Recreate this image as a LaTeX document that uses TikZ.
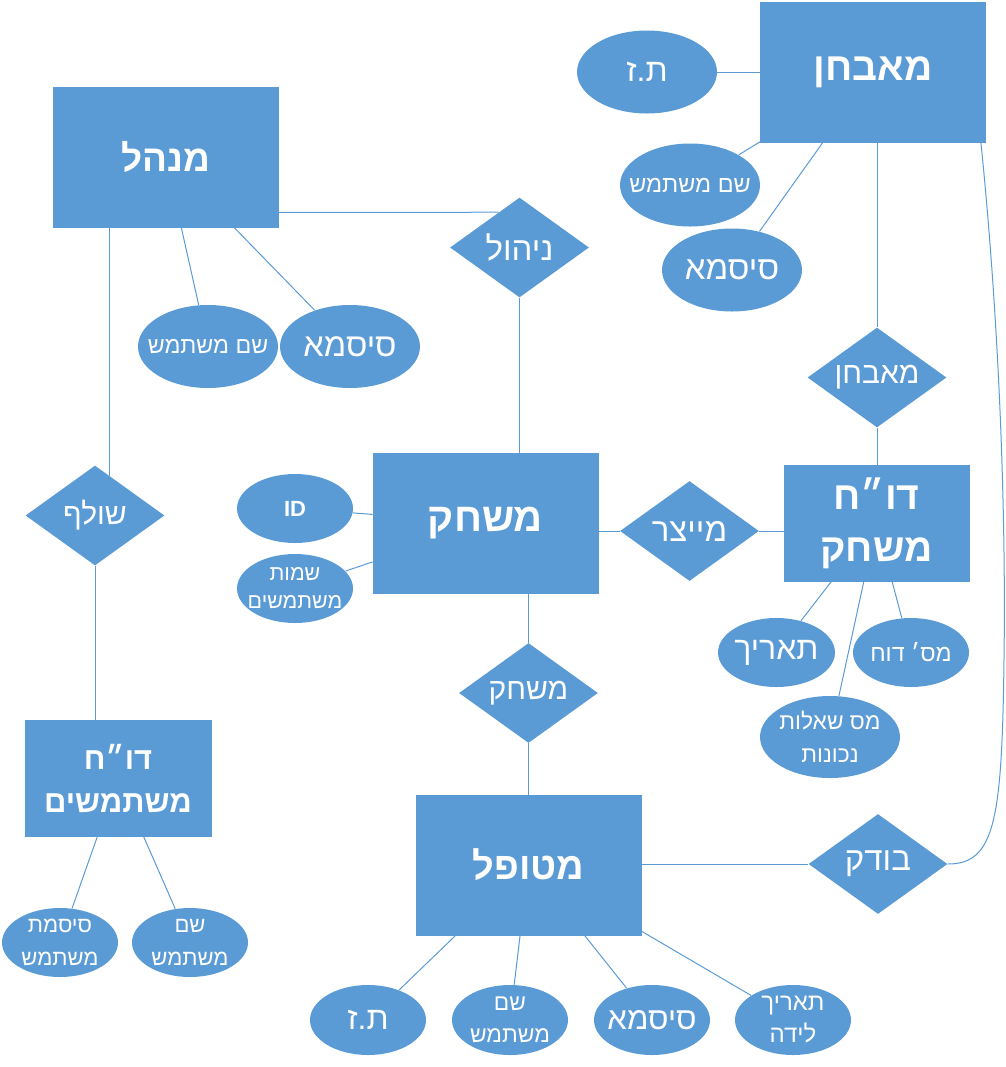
\documentclass[tikz,border=0pt]{standalone}
\usepackage{fontspec}
\usetikzlibrary{shapes.geometric,calc}
\newfontfamily\hebfont[Script=Hebrew]{Liberation Sans}
\TeXXeTstate=1
\newcommand{\heb}[1]{\beginR #1\endR}
\definecolor{erblue}{HTML}{5B9BD5}

\begin{document}
\begin{tikzpicture}[x=0.5pt, y=-0.5pt,
    entity/.style={rectangle, fill=erblue, draw=erblue, text=white, inner sep=0pt,
        minimum width=112.5pt, minimum height=70pt, align=center,
        font=\hebfont\bfseries\fontsize{19}{25}\selectfont},
    relation/.style={diamond, fill=erblue, text=white, inner sep=-10pt, aspect=1.4,
        minimum width=69.5pt, minimum height=50pt,
        font=\hebfont\fontsize{15}{18}\selectfont},
    attr/.style={ellipse, fill=erblue, text=white, inner sep=-14pt,
        minimum width=70pt, minimum height=41.5pt, align=center,
        font=\hebfont\fontsize{16}{19}\selectfont},
    smallattr/.style={attr, minimum width=58pt, minimum height=34.5pt,
        font=\hebfont\fontsize{11}{16}\selectfont},
    link/.style={draw=erblue, line width=0.5pt}]

            \useasboundingbox (0,0) rectangle (1006,1067);

            \node[entity, font=\hebfont\bfseries\fontsize{18.5}{25}\selectfont] (manager) at (165.5,157) {\heb{מנהל}};
            \node[entity, font=\hebfont\bfseries\fontsize{20}{25}\selectfont] (game) at (485.5,523) {\heb{משחק}};
            \node[entity, font=\hebfont\bfseries\fontsize{19.5}{25}\selectfont] (examiner) at (873,72) {\heb{מאבחן}};
            \node[entity] (patient) at (528.5,865) {\heb{מטופל}};
            \node[entity, minimum width=92.5pt, minimum height=58pt, font=\hebfont\bfseries\fontsize{19.5}{26}\selectfont] (gamerep) at (876.5,523) {\heb{דו״ח}\\\heb{משחק}};
            \node[entity, minimum width=93pt, minimum height=58pt, font=\hebfont\bfseries\fontsize{15.5}{21.5}\selectfont] (userrep) at (118,778) {\heb{דו״ח}\\\heb{משתמשים}};

            \node[relation, font=\hebfont\fontsize{16.5}{18}\selectfont] (manage) at (519.5,247.5) {\heb{ניהול}};
            \node[relation] (examine) at (877,377.5) {\heb{מאבחן}};
            \node[relation, font=\hebfont\fontsize{16.5}{18}\selectfont] (produce) at (689.5,531) {\heb{מייצר}};
            \node[relation] (play) at (528.5,693) {\heb{משחק}};
            \node[relation] (fetch) at (95,515.5) {\heb{שולף}};
            \node[relation, font=\hebfont\fontsize{16.5}{18}\selectfont] (check) at (878,864) {\heb{בודק}};

            \node[attr] (exid) at (647,72) {\heb{ת.ז}};
            \node[attr, font=\hebfont\fontsize{11.7}{16}\selectfont] (exuser) at (690,185) {\heb{שם משתמש}};
            \node[attr, font=\hebfont\fontsize{16.5}{19}\selectfont] (expass) at (732,270) {\heb{סיסמא}};

            \node[attr, font=\hebfont\fontsize{11.6}{16}\selectfont] (mguser) at (208,346.5) {\heb{שם משתמש}};
            \node[attr, font=\hebfont\fontsize{16.3}{19}\selectfont] (mgpass) at (350,346.5) {\heb{סיסמא}};

            \node[smallattr, font=\hebfont\bfseries\fontsize{11}{14}\selectfont] (gmid) at (295,508.5) {ID};
            \node[smallattr, font=\hebfont\fontsize{10.7}{14}\selectfont] (gmusers) at (295,588.5) {\heb{שמות}\\\heb{משתמשים}};

            \node[smallattr, minimum width=58.5pt, font=\hebfont\fontsize{16}{19}\selectfont] (grdate) at (776.5,652.5) {\heb{תאריך}};
            \node[smallattr, font=\hebfont\fontsize{11.7}{16}\selectfont] (grnum) at (911,652.5) {\heb{מס׳ דוח}};
            \node[attr, minimum height=41pt, font=\hebfont\fontsize{11.4}{16.5}\selectfont] (grcorrect) at (830,737) {\heb{מס שאלות}\\\heb{נכונות}};

            \node[smallattr, font=\hebfont\fontsize{11}{16.5}\selectfont] (urpass) at (60,942.5) {\heb{סיסמת}\\\heb{משתמש}};
            \node[smallattr, font=\hebfont\fontsize{11}{16.5}\selectfont] (uruser) at (190,942.5) {\heb{שם}\\\heb{משתמש}};

            \node[smallattr, minimum height=35pt, font=\hebfont\fontsize{16}{19}\selectfont] (ptid) at (368,1020) {\heb{ת.ז}};
            \node[smallattr, minimum height=35pt, font=\hebfont\fontsize{11.4}{16}\selectfont] (ptuser) at (510,1020) {\heb{שם}\\\heb{משתמש}};
            \node[smallattr, minimum height=35pt, font=\hebfont\fontsize{15.6}{19}\selectfont] (ptpass) at (652,1020) {\heb{סיסמא}};
            \node[smallattr, minimum height=35pt, font=\hebfont\fontsize{12}{16}\selectfont] (ptbirth) at (793,1020) {\heb{תאריך}\\\heb{לידה}};

            \coordinate (manin) at ($(manage.west)!0.7!(manage.north)$);
            \coordinate (fetchin) at ($(fetch.north)!0.21!(fetch.east)$);
            \coordinate (bend) at (1004,660);

            \draw[link] ([yshift=7.5pt]manager.south east) -- (manin);
            \draw[link] (manager.south -| fetchin) -- (fetchin);
            \draw[link] (manager) -- (mguser);
            \draw[link] (manager) -- (mgpass);
            \draw[link] (manage.south) -- (manage.south |- game.north);

            \draw[link] (exid) -- (examiner);
            \draw[link] (examiner) -- (exuser);
            \draw[link] (examiner) -- (expass);
            \draw[link] (examine.north |- examiner.south) -- (examine.north);
            \draw[link] (examine.south) -- (examine.south |- gamerep.north);
            \draw[link] ([xshift=-2.5pt]examiner.south east) .. controls (1000,330) and (1006,520) .. (bend)
                .. controls (1002,820) and (995,864) .. (check.east);

            \draw[link] (game) -- (gmid);
            \draw[link] (game) -- (gmusers);
            \draw[link] (produce.west -| game.east) -- (produce.west);
            \draw[link] (produce.east) -- (produce.east -| gamerep.west);
            \draw[link] (play.north |- game.south) -- (play.north);
            \draw[link] (play.south) -- (play.south |- patient.north);

            \draw[link] (gamerep) -- (grdate);
            \draw[link] (gamerep) -- (grnum);
            \draw[link] (gamerep) -- (grcorrect);

            \draw[link] (fetch.south) -- (fetch.south |- userrep.north);
            \draw[link] (userrep) -- (urpass);
            \draw[link] (userrep) -- (uruser);

            \draw[link] (check.west -| patient.east) -- (check.west);
            \draw[link] (patient) -- (ptid);
            \draw[link] (patient) -- (ptuser);
            \draw[link] (patient) -- (ptpass);
            \draw[link] (patient) -- (ptbirth);
\end{tikzpicture}
\end{document}
